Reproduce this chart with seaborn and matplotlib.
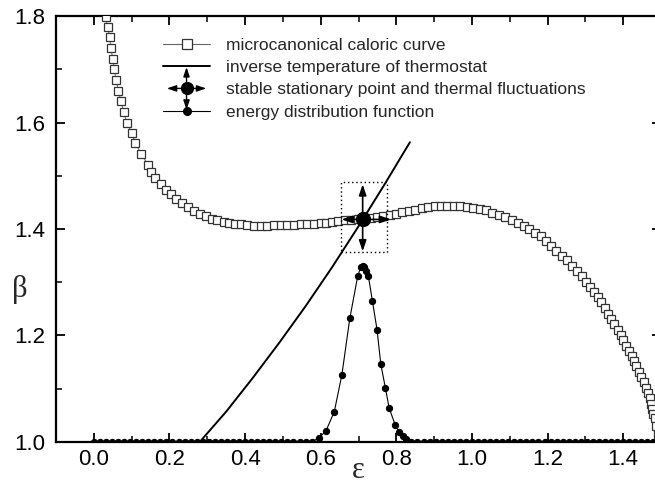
import pandas as pd
import matplotlib
matplotlib.use('Agg')
import matplotlib.pyplot as plt
import seaborn as sns
from matplotlib.lines import Line2D
from matplotlib.patches import FancyArrowPatch, Rectangle
from matplotlib.legend_handler import HandlerBase
from matplotlib.ticker import MultipleLocator, FormatStrFormatter

# microcanonical caloric curve (open squares)
caloric_eps = [0.031, 0.037, 0.042, 0.045, 0.050, 0.054, 0.059, 0.065, 0.072, 0.079,
               0.087, 0.100, 0.110, 0.126, 0.144, 0.150, 0.163, 0.177, 0.190, 0.204,
               0.218, 0.234, 0.249, 0.265, 0.280, 0.296, 0.312, 0.327, 0.343, 0.358,
               0.374, 0.390, 0.406, 0.424, 0.441, 0.458, 0.476, 0.495, 0.512, 0.530,
               0.547, 0.565, 0.583, 0.600, 0.613, 0.630, 0.647, 0.664, 0.681, 0.698,
               0.715, 0.732, 0.748, 0.765, 0.782, 0.799, 0.816, 0.833, 0.850, 0.867,
               0.884, 0.901, 0.918, 0.935, 0.952, 0.969, 0.986, 1.003, 1.020, 1.037,
               1.054, 1.071, 1.088, 1.105, 1.121, 1.137, 1.152, 1.168, 1.183, 1.197,
               1.210, 1.222, 1.237, 1.251, 1.265, 1.278, 1.290, 1.301, 1.312, 1.323,
               1.333, 1.342, 1.351, 1.360, 1.369, 1.377, 1.385, 1.393, 1.400, 1.407,
               1.415, 1.422, 1.428, 1.435, 1.442, 1.448, 1.455, 1.461, 1.466, 1.470,
               1.474, 1.477, 1.480, 1.483, 1.487, 1.492, 1.497]
caloric_beta = [1.798, 1.779, 1.760, 1.740, 1.720, 1.700, 1.680, 1.660, 1.640, 1.620,
                1.600, 1.581, 1.561, 1.540, 1.520, 1.507, 1.495, 1.484, 1.473, 1.465,
                1.456, 1.448, 1.441, 1.434, 1.428, 1.424, 1.419, 1.416, 1.413, 1.411,
                1.409, 1.409, 1.407, 1.406, 1.406, 1.406, 1.407, 1.407, 1.407, 1.408,
                1.409, 1.409, 1.410, 1.411, 1.412, 1.414, 1.415, 1.416, 1.417, 1.418,
                1.419, 1.420, 1.422, 1.424, 1.426, 1.429, 1.431, 1.434, 1.436, 1.439,
                1.441, 1.443, 1.444, 1.444, 1.444, 1.444, 1.442, 1.440, 1.438, 1.435,
                1.430, 1.426, 1.422, 1.417, 1.411, 1.405, 1.400, 1.393, 1.386, 1.377,
                1.368, 1.359, 1.350, 1.341, 1.331, 1.321, 1.311, 1.300, 1.291, 1.282,
                1.272, 1.262, 1.251, 1.241, 1.231, 1.221, 1.211, 1.201, 1.191, 1.181,
                1.171, 1.162, 1.152, 1.142, 1.132, 1.123, 1.112, 1.102, 1.092, 1.082,
                1.072, 1.062, 1.053, 1.045, 1.030, 1.015, 1.000]

# inverse temperature of the thermostat
thermo_eps = [0.28, 0.35, 0.42, 0.49, 0.56, 0.63, 0.70, 0.77, 0.836]
thermo_beta = [1.000, 1.057, 1.120, 1.186, 1.255, 1.328, 1.405, 1.485, 1.563]

# energy distribution function (shifted onto beta = 1 baseline)
dist_eps = [0.000, 0.016, 0.032, 0.048, 0.064, 0.080, 0.096, 0.112, 0.128, 0.144,
            0.160, 0.176, 0.192, 0.208, 0.224, 0.240, 0.256, 0.272, 0.288, 0.304,
            0.320, 0.336, 0.352, 0.368, 0.384, 0.400, 0.416, 0.432, 0.448, 0.464,
            0.480, 0.496, 0.512, 0.528, 0.544, 0.560, 0.576,
            0.596, 0.614, 0.636, 0.656, 0.677, 0.698, 0.706, 0.711, 0.715, 0.720,
            0.726, 0.737, 0.749, 0.759, 0.771, 0.781, 0.797, 0.808, 0.817, 0.826,
            0.840, 0.856, 0.872, 0.888, 0.904, 0.920, 0.936, 0.952, 0.968, 0.984,
            1.000, 1.016, 1.032, 1.048, 1.064, 1.080, 1.096, 1.112, 1.128, 1.144,
            1.160, 1.176, 1.192, 1.208, 1.224, 1.240, 1.256, 1.272, 1.288, 1.304,
            1.320, 1.336, 1.352, 1.368, 1.384, 1.400, 1.416, 1.432, 1.448, 1.464,
            1.480, 1.496]
dist_peak = [1.008, 1.021, 1.057, 1.126, 1.232, 1.312, 1.328, 1.330, 1.328, 1.322,
             1.312, 1.264, 1.211, 1.146, 1.102, 1.064, 1.032, 1.018, 1.011, 1.006]
dist_beta = [1.0] * 37 + dist_peak + [1.0] * 42

# stable stationary point with thermal fluctuations
stat_eps, stat_beta = 0.711, 1.418
fluct_eps = [0.655, 0.786]
fluct_beta = [1.358, 1.484]
box_eps = [0.653, 0.775]
box_beta = [1.356, 1.488]

caloric = pd.DataFrame({'eps': caloric_eps, 'beta': caloric_beta})
thermo = pd.DataFrame({'eps': thermo_eps, 'beta': thermo_beta})
dist = pd.DataFrame({'eps': dist_eps, 'beta': dist_beta})

sns.set_style('ticks')
plt.rcParams['font.family'] = ['Liberation Sans', 'DejaVu Sans']
serif = ['Liberation Serif', 'DejaVu Serif']

fig = plt.figure(figsize=(6.55, 4.9), dpi=100)
ax = fig.add_axes([56 / 655, 48 / 490, 605 / 655, 426 / 490])

sns.lineplot(data=thermo, x='eps', y='beta', sort=False, estimator=None,
             color='black', lw=1.4, ax=ax, zorder=2)
sns.lineplot(data=caloric, x='eps', y='beta', sort=False, estimator=None,
             color='#666666', lw=0.7, marker='s', ms=6, mfc='white',
             mec='#333333', mew=0.9, ax=ax, zorder=3)
sns.lineplot(data=dist, x='eps', y='beta', sort=False, estimator=None,
             color='black', lw=0.8, marker='o', ms=4.5, mec='black', ax=ax, zorder=4)

# dotted box and fluctuation arrows
ax.add_patch(Rectangle((box_eps[0], box_beta[0]), box_eps[1] - box_eps[0],
                       box_beta[1] - box_beta[0], fill=False, ls=(0, (1, 2)),
                       lw=1.0, ec='black', zorder=5))
arrow_style = '-|>,head_length=0.5,head_width=0.17'
for tip in [(fluct_eps[0], stat_beta), (fluct_eps[1], stat_beta),
            (stat_eps, fluct_beta[0]), (stat_eps, fluct_beta[1])]:
    ax.annotate('', xy=tip, xytext=(stat_eps, stat_beta),
                arrowprops=dict(arrowstyle=arrow_style, mutation_scale=13, lw=1.2,
                                color='black', shrinkA=0, shrinkB=0), zorder=6)
ax.plot([stat_eps], [stat_beta], 'o', color='black', ms=10, zorder=7)


class StationaryHandler(HandlerBase):
    def create_artists(self, legend, orig_handle, xdescent, ydescent,
                       width, height, fontsize, trans):
        cx = 0.5 * width - xdescent
        cy = 0.5 * height - ydescent
        hw = 0.42 * width
        vh = 1.75 * height
        arts = []
        for dx, dy in ((hw, 0), (-hw, 0), (0, vh), (0, -vh)):
            arts.append(FancyArrowPatch((cx, cy), (cx + dx, cy + dy),
                                        arrowstyle=arrow_style, mutation_scale=11,
                                        lw=1.0, color='black', shrinkA=0, shrinkB=0,
                                        transform=trans))
        arts.append(Line2D([cx], [cy], marker='o', ms=8.5, color='black',
                           ls='none', transform=trans))
        return arts


h_cal = Line2D([], [], color='#666666', lw=0.8, marker='s', ms=7, mfc='white',
               mec='#333333', mew=0.9)
h_thermo = Line2D([], [], color='black', lw=1.4)
h_stat = Line2D([], [])
h_dist = Line2D([], [], color='black', lw=0.8, marker='o', ms=5.5)
ax.legend([h_cal, h_thermo, h_stat, h_dist],
          ['microcanonical caloric curve', 'inverse temperature of thermostat',
           'stable stationary point and thermal fluctuations',
           'energy distribution function'],
          handler_map={h_stat: StationaryHandler()}, loc='upper left',
          bbox_to_anchor=(0.177, 0.948), frameon=False, fontsize=12.5,
          handlelength=2.7, handletextpad=0.9, labelspacing=0.4,
          borderpad=0, borderaxespad=0, numpoints=1)

ax.set_xlim(-0.1, 1.5)
ax.set_ylim(1.0, 1.8)
ax.xaxis.set_major_locator(MultipleLocator(0.2))
ax.xaxis.set_minor_locator(MultipleLocator(0.1))
ax.yaxis.set_major_locator(MultipleLocator(0.2))
ax.yaxis.set_minor_locator(MultipleLocator(0.1))
ax.xaxis.set_major_formatter(FormatStrFormatter('%.1f'))
ax.yaxis.set_major_formatter(FormatStrFormatter('%.1f'))
ax.tick_params(which='both', direction='in', top=True, right=True, colors='black')
ax.tick_params(which='major', length=6.5, width=1.3, labelsize=16)
ax.tick_params(which='minor', length=4, width=1.1)
ax.tick_params(axis='x', which='major', pad=5)
ax.tick_params(axis='y', which='major', pad=8)
for s in ax.spines.values():
    s.set_linewidth(1.6)
    s.set_color('black')

ax.set_xlabel('ε', fontsize=22, family=serif, va='center')
ax.xaxis.set_label_coords(0.5, -0.066)
ax.set_ylabel('β', fontsize=22, family=serif, rotation=0, va='center', ha='center')
ax.yaxis.set_label_coords(-0.06, 0.357)

fig.savefig('out.png', dpi=100)
